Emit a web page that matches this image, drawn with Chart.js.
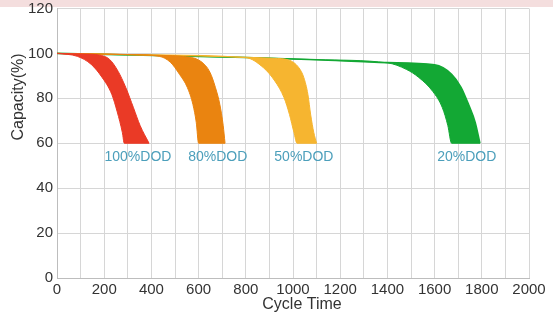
<!DOCTYPE html>
<html>
<head>
<meta charset="utf-8">
<script src="https://cdn.jsdelivr.net/npm/chart.js@4/dist/chart.umd.min.js"></script>
<style>
  html, body { margin: 0; padding: 0; background: #fff; }
  #wrap { width: 553px; height: 313px; position: relative; }
</style>
</head>
<body>
<div id="wrap"><canvas id="cycleChart"></canvas></div>
<script>
// band edges: [cycle, capacity %]
const dod100Outer = [[0, 100], [120, 99.7], [177, 99.3], [223, 97.3], [259, 92], [291, 84.9], [324, 75.8], [352, 67.9], [390, 60]];
const dod100Inner = [[0, 100], [86, 98.7], [145, 95.1], [191, 89.3], [232, 81.8], [255, 74], [277, 64.7], [285, 60]];

const dod80Outer = [[0, 100], [300, 99.5], [450, 99.1], [529, 98.7], [610, 96.4], [648, 91.6], [671, 84.9], [690, 77.2], [704, 68], [712, 60]];
const dod80Inner = [[0, 100], [300, 99.5], [433, 98.7], [481, 96], [519, 90.7], [552, 84.9], [576, 77.2], [590, 69.3], [600, 60]];

const dod50Outer = [[0, 100], [400, 99.3], [800, 98.3], [920, 97.8], [981, 97.1], [1025, 93.6], [1046, 89.2], [1063, 81.8], [1075, 72.6], [1088, 64.8], [1100, 60]];
const dod50Inner = [[0, 100], [400, 99.3], [800, 98.1], [875, 93.6], [923, 87.7], [962, 80.3], [985, 72.8], [1004, 64.8], [1017, 60]];

const dod20Outer = [[0, 100], [800, 98.2], [1100, 97.2], [1400, 95.9], [1600, 94.9], [1672, 90.7], [1712, 84.9], [1744, 77.2], [1772, 69.3], [1792, 60]];
const dod20Inner = [[0, 100], [800, 98.2], [1100, 97.2], [1400, 95.8], [1480, 92.9], [1533, 89.3], [1592, 83.1], [1633, 75.8], [1656, 67.9], [1672, 60]];

const bandLabels = ['100%DOD', '80%DOD', '50%DOD', '20%DOD'];
const bandLabelX = [343, 681, 1046, 1736];
const bandLabelY = 54;
const bandColors = ['#ea3a26', '#ea8410', '#f6b530', '#13a834'];

const xTicks = { min: 0, max: 2000, step: 100 };
const yTicks = { min: 0, max: 120, step: 20 };

const edges = [
    [dod100Outer, dod100Inner],
    [dod80Outer, dod80Inner],
    [dod50Outer, dod50Inner],
    [dod20Outer, dod20Inner]
];

const datasets = [];
edges.forEach(([outer, inner], i) => {
    const last = outer[outer.length - 1];
    // outer edge, plain line
    datasets.push({
        label: bandLabels[i] + ' outer',
        data: outer,
        borderColor: bandColors[i],
        borderWidth: i === 3 ? 1.6 : 1,
        pointRadius: 0,
        cubicInterpolationMode: 'monotone',
        fill: false
    });
    // inner edge runs on along the bottom to the outer end, filled up to the outer edge
    datasets.push({
        label: bandLabels[i],
        data: inner.concat([last]),
        borderColor: bandColors[i],
        backgroundColor: bandColors[i],
        borderWidth: 1,
        pointRadius: 0,
        cubicInterpolationMode: 'monotone',
        fill: '-1'
    });
});

const decorPlugin = {
    id: 'decor',
    beforeDraw(chart) {
        const ctx = chart.ctx;
        ctx.save();
        ctx.fillStyle = '#f4dede';
        ctx.fillRect(0, 0, chart.width, 7);
        ctx.restore();
    },
    afterDraw(chart) {
        const ctx = chart.ctx;
        const xs = chart.scales.x, ys = chart.scales.y;
        ctx.save();
        ctx.fillStyle = '#4c9fbb';
        ctx.font = '14px "Liberation Sans", Arial, sans-serif';
        ctx.textAlign = 'center';
        ctx.textBaseline = 'middle';
        bandLabels.forEach((t, i) => {
            ctx.fillText(t, xs.getPixelForValue(bandLabelX[i]), ys.getPixelForValue(bandLabelY));
        });

        ctx.fillStyle = '#333';
        ctx.font = '16px "Liberation Sans", Arial, sans-serif';
        ctx.fillText('Cycle Time', 302, 305);
        ctx.translate(19, 97);
        ctx.rotate(-Math.PI / 2);
        ctx.fillText('Capacity(%)', 0, 0);
        ctx.restore();
    }
};

new Chart(document.getElementById('cycleChart').getContext('2d'), {
    type: 'line',
    data: { datasets: datasets },
    options: {
        responsive: true,
        maintainAspectRatio: false,
        animation: false,
        layout: { padding: { left: 24, right: 24, top: 0, bottom: 11 } },
        plugins: { legend: { display: false }, tooltip: { enabled: false } },
        scales: {
            x: {
                type: 'linear',
                min: xTicks.min,
                max: xTicks.max,
                grid: { color: '#d6d6d6', drawTicks: false },
                border: { color: '#bdbdbd' },
                ticks: {
                    stepSize: xTicks.step,
                    autoSkip: false,
                    maxRotation: 0,
                    padding: 3,
                    color: '#333',
                    font: { family: '"Liberation Sans", Arial, sans-serif', size: 15 },
                    callback: v => (v % 200 === 0 ? String(v) : '')
                }
            },
            y: {
                min: yTicks.min,
                max: yTicks.max,
                grid: { color: '#d6d6d6', drawTicks: false },
                border: { color: '#bdbdbd' },
                ticks: {
                    stepSize: yTicks.step,
                    padding: 4,
                    color: '#333',
                    font: { family: '"Liberation Sans", Arial, sans-serif', size: 15, lineHeight: 0.6 }
                }
            }
        }
    },
    plugins: [decorPlugin]
});
</script>
</body>
</html>
